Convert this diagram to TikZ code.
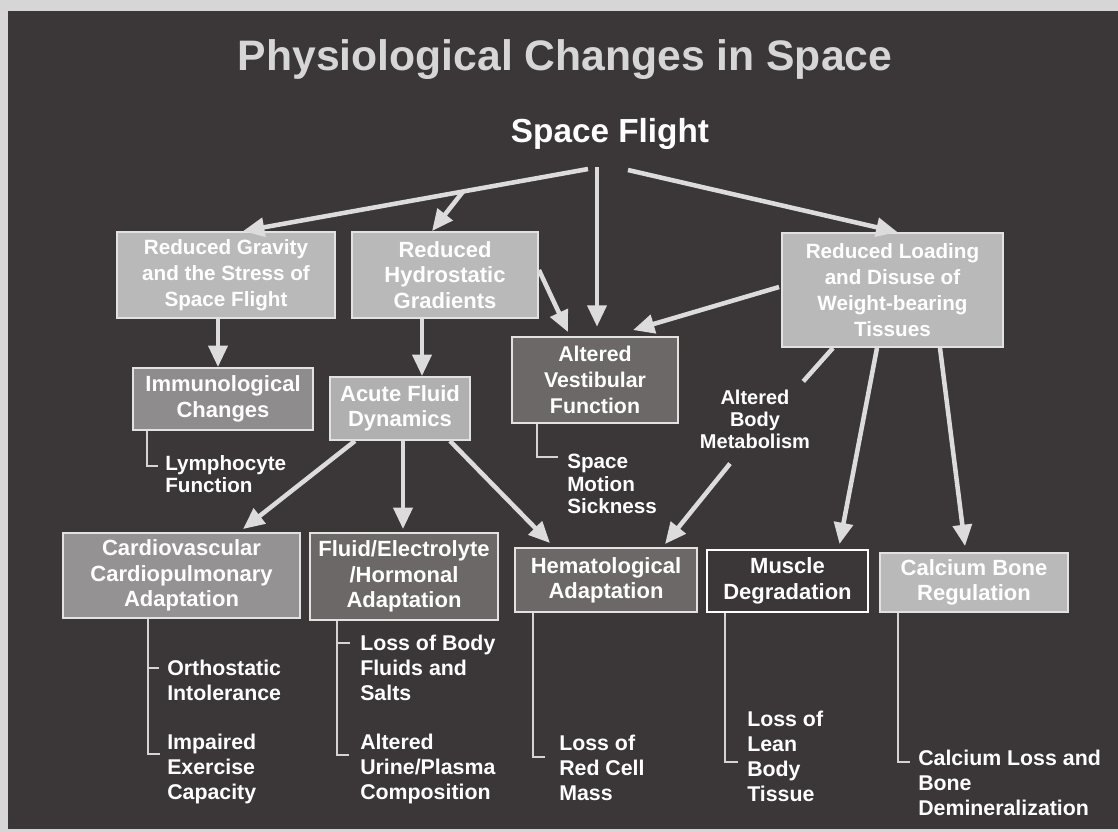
\documentclass[tikz,border=0pt]{standalone}
\usepackage{fontspec}
\setmainfont{Liberation Sans}
\usetikzlibrary{arrows.meta,calc}
\definecolor{bgdark}{HTML}{3B3637}
\definecolor{edgelight}{HTML}{D6D6D6}
\definecolor{arrcol}{HTML}{DCDCDC}
\definecolor{boxline}{HTML}{E2E2E2}
\definecolor{lightfill}{HTML}{B9B9B9}
\definecolor{acutefill}{HTML}{B0B0B0}
\definecolor{midfill}{HTML}{8E8C8C}
\definecolor{cardiofill}{HTML}{949292}
\definecolor{darkfill}{HTML}{6C6868}
\definecolor{subcol}{HTML}{D4D4D4}
\begin{document}
\begin{tikzpicture}[x=0.75pt,y=-0.75pt,
  size/.style 2 args={minimum width=#1*0.75pt,minimum height=#2*0.75pt},
  boxbase/.style={rectangle,draw=boxline,line width=1.4pt,text=white,align=center,inner sep=0pt,
    font=\bfseries\fontsize{16.5}{19}\selectfont},
  lbox/.style={boxbase,fill=lightfill},
  abox/.style={boxbase,fill=acutefill},
  mbox/.style={boxbase,fill=midfill},
  cbox/.style={boxbase,fill=cardiofill},
  dbox/.style={boxbase,fill=darkfill},
  obox/.style={boxbase,fill=bgdark,draw=white},
  bigarrow/.style={draw=arrcol,line width=3.4pt,-{Triangle[length=16pt,width=14pt]}},
  bigline/.style={draw=arrcol,line width=3.4pt},
  sub/.style={draw=subcol,line width=1.5pt},
  toplabel/.style={anchor=north west,inner sep=0pt,align=left,text=white,
    font=\bfseries\fontsize{15.5}{16.8}\selectfont},
  botlabel/.style={anchor=north west,inner sep=0pt,align=left,text=white,
    font=\bfseries\fontsize{16}{18.75}\selectfont}]
\useasboundingbox (0,0) rectangle (1118,832);
\fill[edgelight] (0,0) rectangle (1118,832);
\fill[bgdark] (8,11) rectangle (1118,829);

% titles
\node[anchor=base,inner sep=0pt,text=edgelight,font=\bfseries\fontsize{32}{36}\selectfont] (title) at (565,70) {Physiological Changes in Space};
\node[anchor=base,inner sep=0pt,text=white,font=\bfseries\fontsize{25}{28}\selectfont] (sf) at (610,142) {Space Flight};

% boxes
\node[lbox,size={218}{86},font=\bfseries\fontsize{15.5}{19.5}\selectfont] (grav) at (226,275) {Reduced Gravity\\and the Stress of\\Space Flight};
\node[lbox,size={186}{86}] (hydro) at (445,275) {Reduced\\Hydrostatic\\Gradients};
\node[lbox,size={221}{114},font=\bfseries\fontsize{15.5}{19.5}\selectfont] (load) at (892.5,290) {Reduced Loading\\and Disuse of\\Weight-bearing\\Tissues};
\node[mbox,size={180}{62}] (immuno) at (223,399) {Immunological\\Changes};
\node[abox,size={140}{63}] (acute) at (400,408.5) {Acute Fluid\\Dynamics};
\node[dbox,size={166}{86},font=\bfseries\fontsize{16}{19.5}\selectfont] (vest) at (595,380) {Altered\\Vestibular\\Function};
\node[cbox,size={237}{85}] (cardio) at (181.5,575.5) {Cardiovascular\\Cardiopulmonary\\Adaptation};
\node[dbox,size={188}{87}] (fluid) at (404,576.5) {Fluid/Electrolyte\\/Hormonal\\Adaptation};
\node[dbox,size={182}{64}] (hema) at (606,580) {Hematological\\Adaptation};
\node[obox,size={161}{62}] (muscle) at (787.5,581) {Muscle\\Degradation};
\node[lbox,size={188}{59}] (calcium) at (974,582.5) {Calcium Bone\\Regulation};

% free text
\node[align=center,inner sep=0pt,text=white,font=\bfseries\fontsize{15}{16.5}\selectfont] (metab) at (755,419) {Altered\\Body\\Metabolism};

% sub labels
\node[toplabel] (lympho) at (165,455) {Lymphocyte\\Function};
\node[toplabel] (motion) at (567,454) {Space\\Motion\\Sickness};
\node[botlabel] (ortho) at (167,660) {Orthostatic\\Intolerance};
\node[botlabel] (impair) at (167,734) {Impaired\\Exercise\\Capacity};
\node[botlabel] (lossbody) at (360,635) {Loss of Body\\Fluids and\\Salts};
\node[botlabel] (urine) at (360,734) {Altered\\Urine/Plasma\\Composition};
\node[botlabel] (redcell) at (559,735) {Loss of\\Red Cell\\Mass};
\node[botlabel] (lean) at (747,711) {Loss of\\Lean\\Body\\Tissue};
\node[botlabel] (bone) at (918,750) {Calcium Loss and\\Bone\\Demineralization};

% arrows from Space Flight
\coordinate (sfL) at ($(sf.base)+(-22,27)$);
\coordinate (sfM) at ($(sf.base)+(-13,25)$);
\coordinate (sfR) at ($(sf.base)+(18,28)$);
\coordinate (gravIn) at ($(grav.north)+(17,0)$);
\coordinate (branch) at ($(sfL)!0.362!(gravIn)$);
\draw[bigarrow] (sfL) -- (gravIn);
\draw[bigarrow] (branch) -- ($(hydro.north)+(-13,0)$);
\draw[bigarrow,shorten >=7pt] (sfM) -- (sfM |- vest.north);
\draw[bigarrow] (sfR) -- ($(load.north)+(5,0)$);

% second level
\draw[bigarrow] ($(grav.south)+(-8,0)$) -- ($(immuno.north)+(-5,0)$);
\draw[bigarrow] ($(hydro.south)+(-23,0)$) -- ($(acute.north)+(22,0)$);
\draw[bigarrow] ($(hydro.east)+(0,-5)$) -- ($(vest.north)+(-27,-4)$);
\draw[bigarrow] ($(load.west)+(-2,-3)$) -- ($(vest.north)+(38,-6)$);
\coordinate (metabIn) at ($(metab.north east)+(-7,-8)$);
\draw[bigline] ($(load.south)+(-59.5,0)$) -- (metabIn);
\draw[bigarrow] ($(metab.south)+(-25,15)$) -- ($(hema.north)+(59,-3)$);
\draw[bigarrow] ($(load.south)+(-15.5,0)$) -- ($(muscle.north)+(52,-5)$);
\draw[bigarrow] ($(load.south)+(47.5,0)$) -- ($(calcium.north)+(-9,-6)$);

% from Acute Fluid Dynamics
\draw[bigarrow] ($(acute.south)+(-45,0)$) -- ($(cardio.north)+(61.5,-3)$);
\draw[bigarrow] ($(acute.south)+(3,0)$) -- ($(fluid.north)+(-1,-3)$);
\draw[bigarrow] ($(acute.south)+(50,0)$) -- ($(hema.north)+(-56,-4)$);

% sub-item brackets
\coordinate (tLympho) at (158,466);
\coordinate (tMotion) at (558,457);
\coordinate (tOrtho) at (159,668);
\coordinate (tImpair) at (160,754);
\coordinate (tLossBody) at (350,643);
\coordinate (tUrine) at (349,755);
\coordinate (tRed) at (545,757);
\coordinate (tLean) at (738,762);
\coordinate (tBone) at (910,762);
\draw[sub] (147,0 |- immuno.south) |- (tLympho);
\draw[sub] (537,0 |- vest.south) |- (tMotion);
\draw[sub] (148,0 |- cardio.south) |- (tImpair);
\draw[sub] (tOrtho -| 148,0) -- (tOrtho);
\draw[sub] (337,0 |- fluid.south) |- (tUrine);
\draw[sub] (tLossBody -| 337,0) -- (tLossBody);
\draw[sub] (533,0 |- hema.south) |- (tRed);
\draw[sub] (725,0 |- muscle.south) |- (tLean);
\draw[sub] (898,0 |- calcium.south) |- (tBone);
\end{tikzpicture}
\end{document}
